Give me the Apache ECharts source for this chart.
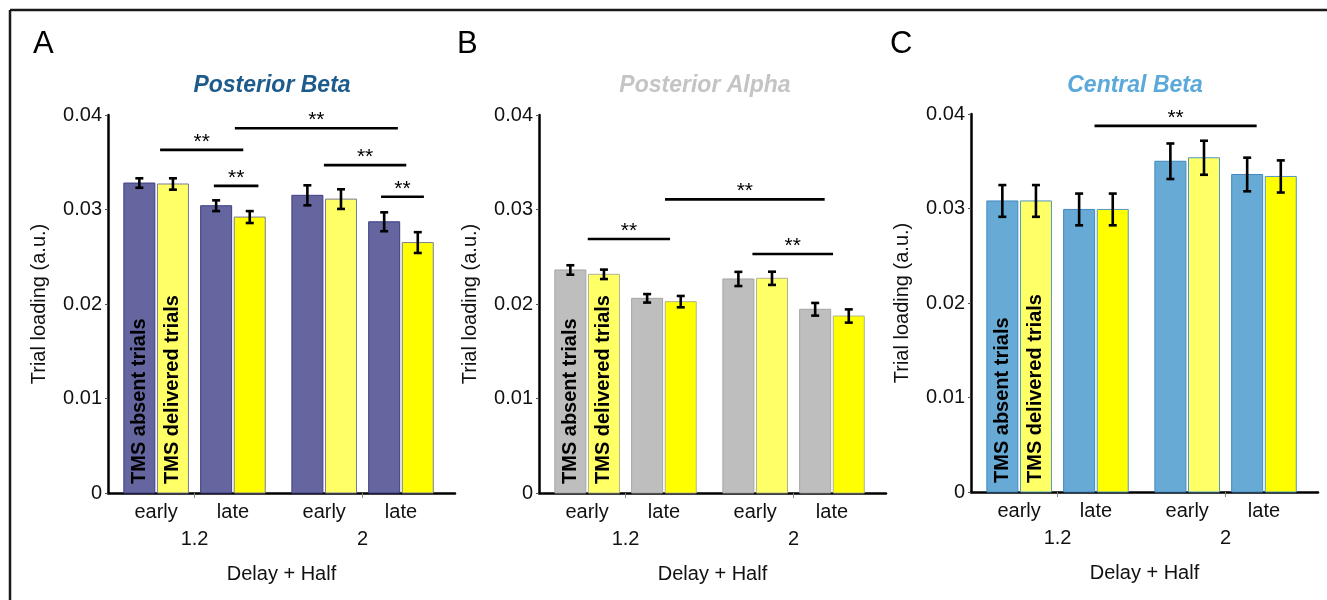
<!DOCTYPE html>
<html>
<head>
<meta charset="utf-8">
<script src="https://cdn.jsdelivr.net/npm/echarts@6.0.0/dist/echarts.min.js"></script>
<style>
  html, body { margin: 0; padding: 0; background: #fff; }
  #main { width: 1327px; height: 600px; }
</style>
</head>
<body>
<div id="main"></div>
<script>
// categories
var halves = ['early', 'late', 'early', 'late'];
var delays = ['1.2', '2'];
var seriesNames = ['TMS absent trials', 'TMS delivered trials'];
var yTickLabels = ['0', '0.01', '0.02', '0.03', '0.04'];
var panelTitles = ['Posterior Beta', 'Posterior Alpha', 'Central Beta'];
var panelLetters = ['A', 'B', 'C'];

// values (early 1.2, late 1.2, early 2, late 2)
var postBetaAbsent = [0.0328, 0.0304, 0.0315, 0.0287];
var postBetaDelivered = [0.0327, 0.0292, 0.0311, 0.0265];
var postBetaAbsentErr = [0.0005, 0.00057, 0.00106, 0.0010];
var postBetaDeliveredErr = [0.0006, 0.00063, 0.00104, 0.0011];

var postAlphaAbsent = [0.0236, 0.0206, 0.02265, 0.01944];
var postAlphaDelivered = [0.02314, 0.02025, 0.02272, 0.01873];
var postAlphaAbsentErr = [0.0005, 0.00045, 0.00075, 0.00067];
var postAlphaDeliveredErr = [0.0005, 0.0006, 0.0007, 0.0007];

var centBetaAbsent = [0.0308, 0.0299, 0.0350, 0.0336];
var centBetaDelivered = [0.0308, 0.0299, 0.03537, 0.03339];
var centBetaAbsentErr = [0.00168, 0.00168, 0.00188, 0.00178];
var centBetaDeliveredErr = [0.00168, 0.00168, 0.0018, 0.0017];

// significance bars: [from, to, height] in axis units
var postBetaSig = [[0.59, 1.58, 0.0363], [1.23, 1.76, 0.0325], [1.48, 3.42, 0.0386], [2.54, 3.52, 0.0347], [3.22, 3.73, 0.03135]];
var postAlphaSig = [[0.55, 1.53, 0.02688], [1.47, 3.37, 0.03108], [2.51, 3.47, 0.02529]];
var centBetaSig = [[1.44, 3.37, 0.03875]];

var FONT = '"Liberation Sans", Arial, sans-serif';
var X_MIN = -0.03, X_MAX = 4.10;
var DELAY_CENTERS = [1, 3];
var HALF_OFFSET = 0.457;
var BAR_OFFSET = 0.2;
var BAR_W = 0.369;

function pairCenter(i) {
    return DELAY_CENTERS[Math.floor(i / 2)] + (i % 2 === 0 ? -HALF_OFFSET : HALF_OFFSET);
}
var pairCenters = halves.map(function (h, i) { return pairCenter(i); });

function nearest(list, v) {
    var best = 0;
    for (var i = 1; i < list.length; i++) {
        if (Math.abs(list[i] - v) < Math.abs(list[best] - v)) best = i;
    }
    return best;
}

var panels = [
    { absent: postBetaAbsent, delivered: postBetaDelivered, absentErr: postBetaAbsentErr, deliveredErr: postBetaDeliveredErr, sig: postBetaSig,
      left: 108, top: 115, titleX: 272, letterX: 33, titleColor: '#1d5b8d',
      absentFill: '#65659f', absentStroke: '#3e3e86', yellowStroke: '#7a7a9c' },
    { absent: postAlphaAbsent, delivered: postAlphaDelivered, absentErr: postAlphaAbsentErr, deliveredErr: postAlphaDeliveredErr, sig: postAlphaSig,
      left: 539, top: 115, titleX: 705, letterX: 457, titleColor: '#c4c4c4',
      absentFill: '#bebebe', absentStroke: '#a4a4a4', yellowStroke: '#b2b290' },
    { absent: centBetaAbsent, delivered: centBetaDelivered, absentErr: centBetaAbsentErr, deliveredErr: centBetaDeliveredErr, sig: centBetaSig,
      left: 971, top: 114, titleX: 1135, letterX: 890, titleColor: '#5ba9da',
      absentFill: '#67aad5', absentStroke: '#4289c0', yellowStroke: '#4f98c2' }
];

function barRender(fills, stroke, label) {
    return function (params, api) {
        var x = api.value(0), v = api.value(1);
        var w = api.size([BAR_W, 0])[0];
        var top = api.coord([x, v]);
        var base = api.coord([x, 0]);
        var children = [{
            type: 'rect',
            shape: { x: top[0] - w / 2, y: top[1], width: w, height: base[1] - top[1] },
            style: { fill: fills[params.dataIndex % 2], stroke: stroke, lineWidth: 1 }
        }];
        if (params.dataIndex === 0) {
            children.push({
                type: 'text', x: top[0], y: base[1] - 9, rotation: Math.PI / 2,
                style: { text: label, fill: '#000', font: 'bold 20px ' + FONT, align: 'left', verticalAlign: 'middle' }
            });
        }
        return { type: 'group', children: children };
    };
}

function errRender(params, api) {
    var x = api.value(0), v = api.value(1), e = api.value(2);
    var hi = api.coord([x, v + e]);
    var lo = api.coord([x, v - e]);
    var st = { stroke: '#000', lineWidth: 2.6 };
    return { type: 'group', children: [
        { type: 'line', shape: { x1: hi[0], y1: hi[1], x2: lo[0], y2: lo[1] }, style: st },
        { type: 'line', shape: { x1: hi[0] - 4, y1: hi[1], x2: hi[0] + 4, y2: hi[1] }, style: st },
        { type: 'line', shape: { x1: lo[0] - 4, y1: lo[1], x2: lo[0] + 4, y2: lo[1] }, style: st }
    ] };
}

function sigRender(params, api) {
    var a = api.coord([api.value(0), api.value(2)]);
    var b = api.coord([api.value(1), api.value(2)]);
    return { type: 'group', children: [
        { type: 'line', shape: { x1: a[0], y1: a[1], x2: b[0], y2: b[1] }, style: { stroke: '#000', lineWidth: 2.7 } },
        { type: 'text', x: (a[0] + b[0]) / 2, y: a[1] - 8,
          style: { text: '**', fill: '#000', font: '21px ' + FONT, align: 'center', verticalAlign: 'middle' } }
    ] };
}

var grids = [], xAxes = [], yAxes = [], series = [], graphics = [];

panels.forEach(function (p, i) {
    grids.push({ left: p.left, top: p.top, width: 347, height: 378 });
    xAxes.push({
        type: 'value', gridIndex: i, min: X_MIN, max: X_MAX, position: 'bottom',
        splitLine: { show: false },
        axisLine: { onZero: false, lineStyle: { color: '#000', width: 2.5 } },
        axisTick: { customValues: DELAY_CENTERS, length: 5, lineStyle: { color: '#888', width: 1 } },
        axisLabel: { customValues: pairCenters, margin: 9, fontSize: 20, color: '#111', fontFamily: FONT,
            formatter: function (v) { return halves[nearest(pairCenters, v)]; } }
    });
    xAxes.push({
        type: 'value', gridIndex: i, min: X_MIN, max: X_MAX, position: 'bottom',
        splitLine: { show: false }, axisLine: { show: false }, axisTick: { show: false },
        axisLabel: { customValues: DELAY_CENTERS, margin: 36, fontSize: 20, color: '#111', fontFamily: FONT,
            formatter: function (v) { return delays[nearest(DELAY_CENTERS, v)]; } },
        name: 'Delay + Half', nameLocation: 'middle', nameGap: 71,
        nameTextStyle: { fontSize: 20, color: '#111', fontFamily: FONT }
    });
    yAxes.push({
        type: 'value', gridIndex: i, min: 0, max: 0.04, interval: 0.01,
        splitLine: { show: false },
        axisLine: { show: true, onZero: false, lineStyle: { color: '#000', width: 2.5 } },
        axisTick: { show: true, length: 3, lineStyle: { color: '#555', width: 1 } },
        axisLabel: { margin: 6, fontSize: 20, color: '#111', fontFamily: FONT,
            formatter: function (v) { return yTickLabels[Math.round(v / 0.01)]; } },
        name: 'Trial loading (a.u.)', nameLocation: 'middle', nameGap: 59,
        nameTextStyle: { fontSize: 20, color: '#111', fontFamily: FONT }
    });

    var xi = i * 2;
    var absentData = p.absent.map(function (v, k) { return [pairCenter(k) - BAR_OFFSET, v, p.absentErr[k]]; });
    var deliveredData = p.delivered.map(function (v, k) { return [pairCenter(k) + BAR_OFFSET, v, p.deliveredErr[k]]; });

    series.push({ type: 'custom', name: seriesNames[0], xAxisIndex: xi, yAxisIndex: i, data: absentData,
        encode: { x: 0, y: 1 }, renderItem: barRender([p.absentFill, p.absentFill], p.absentStroke, seriesNames[0]) });
    series.push({ type: 'custom', name: seriesNames[1], xAxisIndex: xi, yAxisIndex: i, data: deliveredData,
        encode: { x: 0, y: 1 }, renderItem: barRender(['#ffff66', '#ffff00'], p.yellowStroke, seriesNames[1]) });
    series.push({ type: 'custom', xAxisIndex: xi, yAxisIndex: i, data: absentData, z: 5,
        encode: { x: 0, y: 1 }, renderItem: errRender });
    series.push({ type: 'custom', xAxisIndex: xi, yAxisIndex: i, data: deliveredData, z: 5,
        encode: { x: 0, y: 1 }, renderItem: errRender });
    series.push({ type: 'custom', xAxisIndex: xi, yAxisIndex: i, data: p.sig, z: 5,
        encode: { x: [0, 1], y: 2 }, renderItem: sigRender });

    graphics.push({ type: 'text', left: p.letterX, top: 29,
        style: { text: panelLetters[i], fill: '#000', font: '31px ' + FONT } });
    graphics.push({ type: 'text', x: p.titleX, y: 86,
        style: { text: panelTitles[i], fill: p.titleColor, font: 'italic bold 23px ' + FONT, align: 'center', verticalAlign: 'middle' } });
});

// frame
graphics.push({ type: 'line', shape: { x1: 10, y1: 10, x2: 1327, y2: 10 }, style: { stroke: '#1a1a1a', lineWidth: 2.5 } });
graphics.push({ type: 'line', shape: { x1: 10, y1: 10, x2: 10, y2: 600 }, style: { stroke: '#1a1a1a', lineWidth: 2.5 } });

var myChart = echarts.init(document.getElementById('main'));
myChart.setOption({
    animation: false,
    textStyle: { fontFamily: FONT },
    grid: grids,
    xAxis: xAxes,
    yAxis: yAxes,
    series: series,
    graphic: graphics
});
window.addEventListener('resize', function () { myChart.resize(); });
</script>
</body>
</html>
